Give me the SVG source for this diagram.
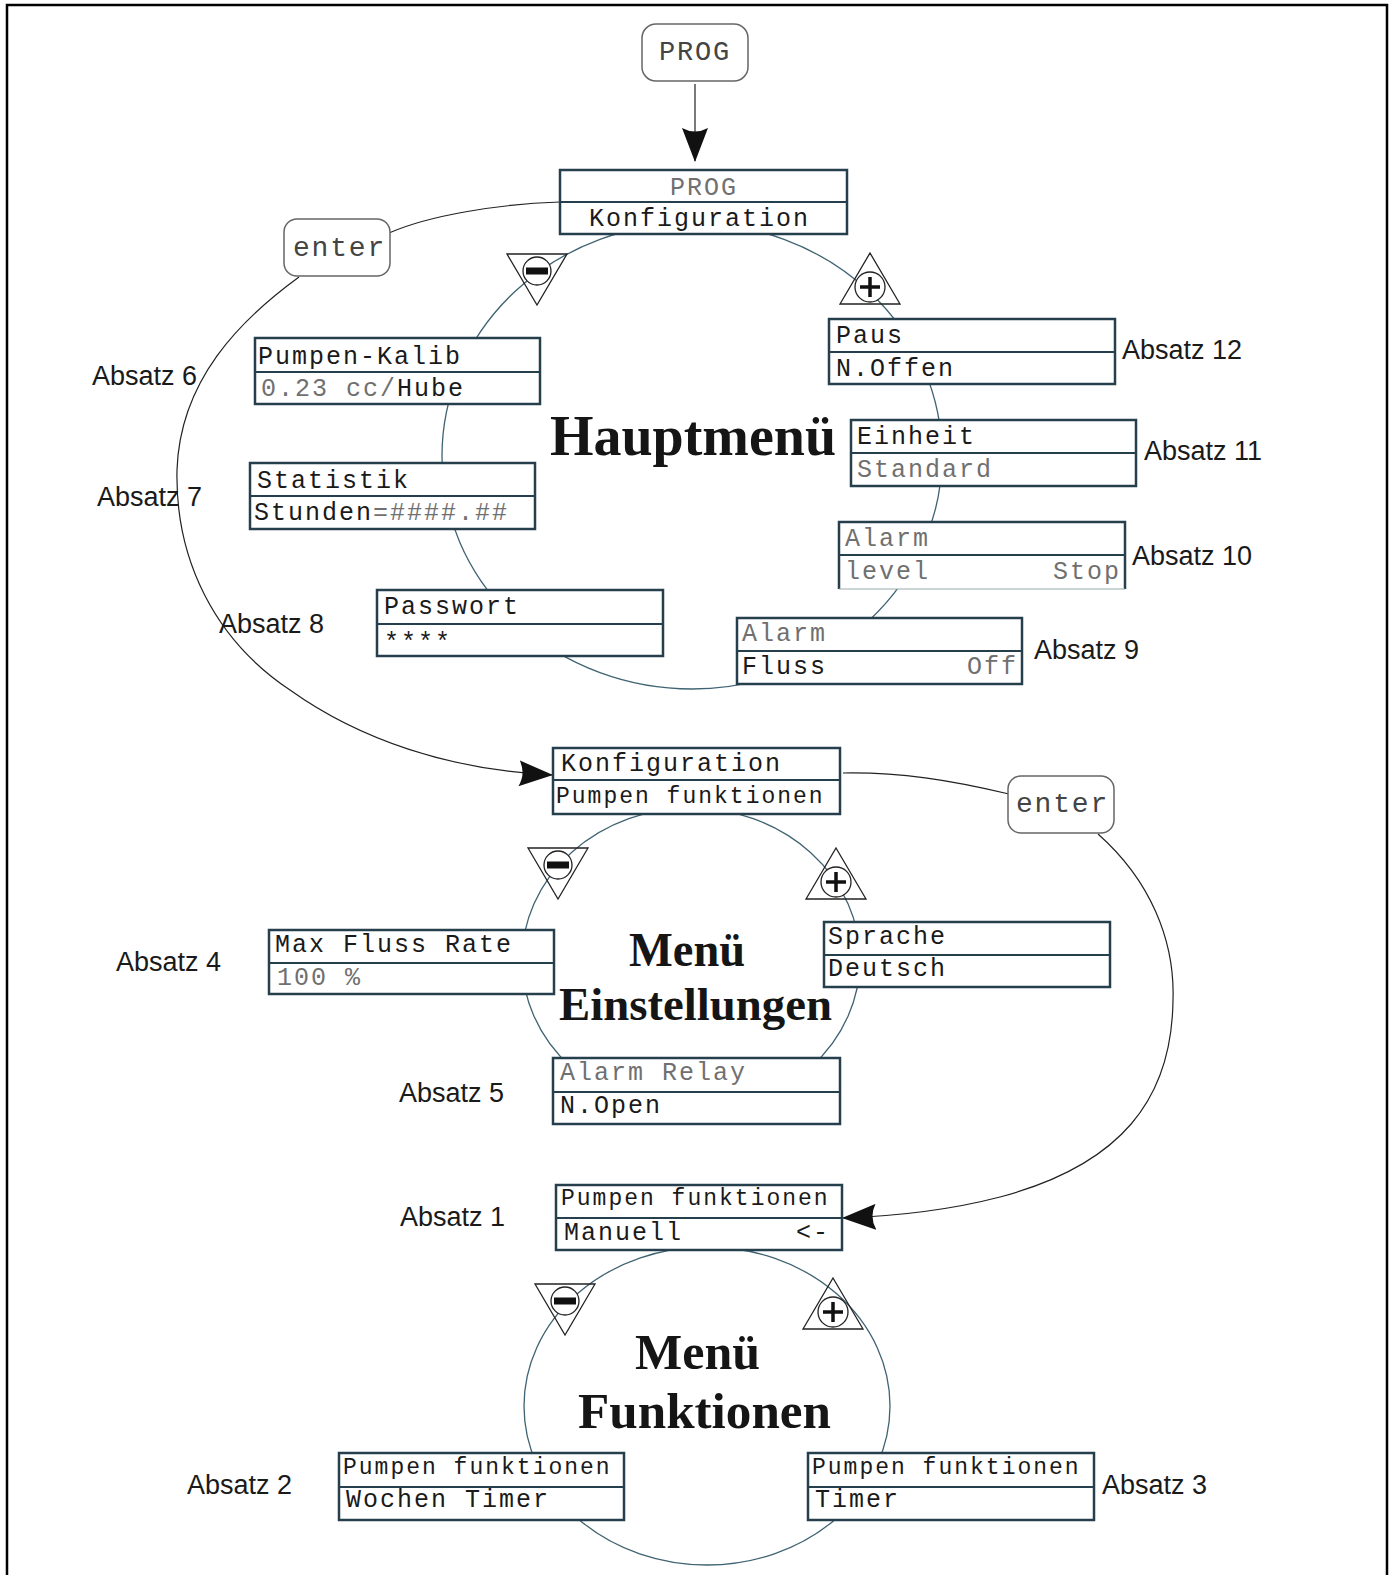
<svg xmlns="http://www.w3.org/2000/svg" width="1393" height="1575" viewBox="0 0 1393 1575">
<style>
.box{fill:#fff;stroke:#263f4c;stroke-width:2.5}
.dv{stroke:#263f4c;stroke-width:2}
.t{font-family:"Liberation Mono",monospace;font-size:25px;letter-spacing:2px;fill:#1a1a1a}
.ts{font-size:23px;letter-spacing:2px}
.g{fill:#707070}
.lab{font-family:"Liberation Sans",Arial,sans-serif;font-size:27px;fill:#1a1a1a}
.ttl{font-family:"Liberation Serif","Times New Roman",serif;font-weight:bold;fill:#151515}
.ell{fill:none;stroke:#3f6372;stroke-width:1.3}
.con{fill:none;stroke:#222;stroke-width:1.2}
.btn{fill:#fff;stroke:#666;stroke-width:1.5}
.bt{font-family:"Liberation Mono",monospace;fill:#444}
.tri{fill:none;stroke:#222;stroke-width:1.3}
.knob{fill:#fff;stroke:#222;stroke-width:1.3}
</style>
<defs>
<marker id="ah" viewBox="0 0 34 26" refX="33" refY="13" markerWidth="34" markerHeight="26" markerUnits="userSpaceOnUse" orient="auto">
<path d="M0,0 L34,13 L0,26 Q7,13 0,0 Z" fill="#111"/>
</marker>
<g id="minusBtn">
<path class="tri" d="M-30,0 L30,0 L0,51 Z"/>
<circle class="knob" cx="0" cy="17" r="14"/>
<rect x="-11" y="13.5" width="22" height="7" fill="#111"/>
</g>
<g id="plusBtn">
<path class="tri" d="M0,0 L30,51 L-30,51 Z"/>
<circle class="knob" cx="0" cy="34" r="15"/>
<path d="M-10,34 H10 M0,24 V44" stroke="#111" stroke-width="3.5" fill="none"/>
</g>
</defs>
<rect x="7" y="5" width="1380" height="1590" fill="none" stroke="#000" stroke-width="2.5"/>

<g id="circles">
<ellipse class="ell" cx="692" cy="456" rx="250" ry="233"/>
<ellipse class="ell" cx="691" cy="960" rx="169" ry="152"/>
<ellipse class="ell" cx="707" cy="1406" rx="183" ry="159"/>
</g>

<g id="connectors">
<line class="con" x1="695" y1="84" x2="695" y2="161" marker-end="url(#ah)"/>
<path class="con" d="M560,202 C500,204 430,215 389,233"/>
<path class="con" d="M299,277 C240,320 180,380 177,470 C175,560 215,640 290,690 C360,740 450,770 552,775" marker-end="url(#ah)"/>
<path class="con" d="M843,773 C900,772 950,780 1009,794"/>
<path class="con" d="M1098,834 C1150,880 1175,940 1173,1000 C1172,1100 1120,1165 1000,1197 C950,1210 900,1216 843,1218" marker-end="url(#ah)"/>
</g>

<g id="btn-minus-1"><use href="#minusBtn" x="537" y="254"/></g>
<g id="btn-plus-1"><use href="#plusBtn" x="870" y="253"/></g>
<g id="btn-minus-2"><use href="#minusBtn" x="558" y="848"/></g>
<g id="btn-plus-2"><use href="#plusBtn" x="836" y="848"/></g>
<g id="btn-minus-3"><use href="#minusBtn" x="565" y="1284"/></g>
<g id="btn-plus-3"><use href="#plusBtn" x="833" y="1278"/></g>

<g id="prog-key">
<rect class="btn" x="642" y="24" width="106" height="57" rx="14"/>
<text class="bt" x="659" y="60" font-size="27" letter-spacing="1.8">PROG</text>
</g>
<g id="enter-1">
<rect class="btn" x="284" y="219" width="106" height="57" rx="13"/>
<text class="bt" x="293" y="256" font-size="28" letter-spacing="1.8">enter</text>
</g>
<g id="enter-2">
<rect class="btn" x="1008" y="776" width="106" height="57" rx="13"/>
<text class="bt" x="1016" y="812" font-size="28" letter-spacing="1.8">enter</text>
</g>

<g id="box-prog-konfig">
<rect class="box" x="560" y="170" width="287" height="64"/>
<line class="dv" x1="560" y1="202" x2="847" y2="202"/>
<text class="t g" x="670" y="195">PROG</text>
<text class="t" x="589" y="226">Konfiguration</text>
</g>
<g id="box-pumpen-kalib">
<rect class="box" x="255" y="338" width="285" height="66"/>
<line class="dv" x1="255" y1="372" x2="540" y2="372"/>
<text class="t" x="258" y="364">Pumpen-Kalib</text>
<text class="t" x="261" y="396"><tspan class="g">0.23 cc/</tspan>Hube</text>
</g>
<g id="box-statistik">
<rect class="box" x="250" y="463" width="285" height="66"/>
<line class="dv" x1="250" y1="496" x2="535" y2="496"/>
<text class="t" x="257" y="488">Statistik</text>
<text class="t" x="254" y="520">Stunden<tspan class="g">=####.##</tspan></text>
</g>
<g id="box-passwort">
<rect class="box" x="377" y="590" width="286" height="66"/>
<line class="dv" x1="377" y1="624" x2="663" y2="624"/>
<text class="t" x="384" y="614">Passwort</text>
<text class="t" x="384" y="650" fill="#333">****</text>
</g>
<g id="box-paus">
<rect class="box" x="829" y="319" width="286" height="65"/>
<line class="dv" x1="829" y1="352" x2="1115" y2="352"/>
<text class="t" x="836" y="343">Paus</text>
<text class="t" x="836" y="376">N.Offen</text>
</g>
<g id="box-einheit">
<rect class="box" x="851" y="420" width="285" height="66"/>
<line class="dv" x1="851" y1="453" x2="1136" y2="453"/>
<text class="t" x="857" y="444">Einheit</text>
<text class="t g" x="857" y="477">Standard</text>
</g>
<g id="box-alarm-level">
<rect x="839" y="522" width="286" height="67" fill="#fff"/>
<path d="M839,589 V522 H1125 V589" fill="none" stroke="#263f4c" stroke-width="2.5"/>
<line x1="839" y1="589" x2="1125" y2="589" stroke="#9aa" stroke-width="1"/>
<line class="dv" x1="839" y1="555" x2="1125" y2="555"/>
<text class="t g" x="845" y="546">Alarm</text>
<text class="t g" x="845" y="579">level</text>
<text class="t g" x="1053" y="579">Stop</text>
</g>
<g id="box-alarm-fluss">
<rect class="box" x="737" y="618" width="285" height="66"/>
<line class="dv" x1="737" y1="651" x2="1022" y2="651"/>
<text class="t g" x="742" y="641">Alarm</text>
<text class="t" x="742" y="674">Fluss</text>
<text class="t g" x="967" y="674">Off</text>
</g>

<g id="box-konfig-pumpen">
<rect class="box" x="553" y="748" width="287" height="66"/>
<line class="dv" x1="553" y1="780" x2="840" y2="780"/>
<text class="t" x="561" y="771">Konfiguration</text>
<text class="t ts" x="556" y="803">Pumpen funktionen</text>
</g>
<g id="box-max-fluss">
<rect class="box" x="269" y="930" width="285" height="64"/>
<line class="dv" x1="269" y1="963" x2="554" y2="963"/>
<text class="t" x="275" y="952">Max Fluss Rate</text>
<text class="t g" x="277" y="985">100 %</text>
</g>
<g id="box-sprache">
<rect class="box" x="824" y="922" width="286" height="65"/>
<line class="dv" x1="824" y1="955" x2="1110" y2="955"/>
<text class="t" x="828" y="944">Sprache</text>
<text class="t" x="828" y="976">Deutsch</text>
</g>
<g id="box-alarm-relay">
<rect class="box" x="553" y="1058" width="287" height="66"/>
<line class="dv" x1="553" y1="1092" x2="840" y2="1092"/>
<text class="t g" x="560" y="1080">Alarm Relay</text>
<text class="t" x="560" y="1113">N.Open</text>
</g>

<g id="box-manuell">
<rect class="box" x="556" y="1185" width="286" height="65"/>
<line class="dv" x1="556" y1="1218" x2="842" y2="1218"/>
<text class="t ts" x="561" y="1205">Pumpen funktionen</text>
<text class="t" x="564" y="1240">Manuell</text>
<text class="t" x="796" y="1240">&lt;-</text>
</g>
<g id="box-wochen-timer">
<rect class="box" x="339" y="1453" width="285" height="67"/>
<line class="dv" x1="339" y1="1487" x2="624" y2="1487"/>
<text class="t ts" x="343" y="1474">Pumpen funktionen</text>
<text class="t" x="346" y="1507">Wochen Timer</text>
</g>
<g id="box-timer">
<rect class="box" x="808" y="1453" width="286" height="67"/>
<line class="dv" x1="808" y1="1487" x2="1094" y2="1487"/>
<text class="t ts" x="812" y="1474">Pumpen funktionen</text>
<text class="t" x="815" y="1507">Timer</text>
</g>

<g id="titles">
<text class="ttl" x="550" y="455" font-size="58" textLength="286" lengthAdjust="spacingAndGlyphs">Hauptmenü</text>
<text class="ttl" x="629" y="966" font-size="48" textLength="116" lengthAdjust="spacingAndGlyphs">Menü</text>
<text class="ttl" x="559" y="1020" font-size="47" textLength="273" lengthAdjust="spacingAndGlyphs">Einstellungen</text>
<text class="ttl" x="635" y="1369" font-size="51" textLength="125" lengthAdjust="spacingAndGlyphs">Menü</text>
<text class="ttl" x="578" y="1428" font-size="51" textLength="253" lengthAdjust="spacingAndGlyphs">Funktionen</text>
</g>

<g id="labels">
<text class="lab" x="92" y="385">Absatz 6</text>
<text class="lab" x="97" y="506">Absatz 7</text>
<text class="lab" x="219" y="633">Absatz 8</text>
<text class="lab" x="1122" y="359">Absatz 12</text>
<text class="lab" x="1144" y="460">Absatz 11</text>
<text class="lab" x="1132" y="565">Absatz 10</text>
<text class="lab" x="1034" y="659">Absatz 9</text>
<text class="lab" x="116" y="971">Absatz 4</text>
<text class="lab" x="399" y="1102">Absatz 5</text>
<text class="lab" x="400" y="1226">Absatz 1</text>
<text class="lab" x="187" y="1494">Absatz 2</text>
<text class="lab" x="1102" y="1494">Absatz 3</text>
</g>
</svg>
